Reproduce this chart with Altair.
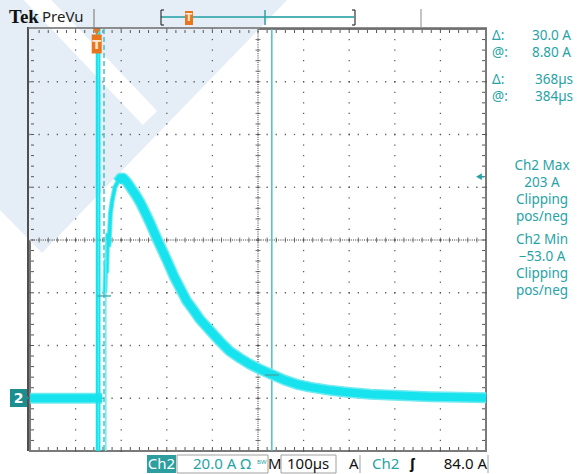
import altair as alt
import pandas as pd

# ---------------- data ----------------
# Ch2 current trace, time relative to trigger (µs) and current (A)
base_t = [-146, -100, -50, 0, 6, 12]
base_a = [0, 0, 0, 0, 0, 0]
rise_t = [18, 20, 22, 24, 27, 30, 34, 40, 46]
rise_a = [40, 52, 48, 62, 58, 70, 75, 80, 82]
decay_t = [46, 52, 58, 66, 76, 86, 96, 106, 117, 132,
           154, 170, 183, 197, 211, 226, 248, 270, 292, 314, 336, 358, 384, 413, 439,
           468, 512, 549, 600, 665, 731, 797, 854]
decay_a = [82, 83.5, 83.5, 82, 79.5, 77, 74, 70.5, 66.5, 60.5,
           52.3, 46, 41.7, 37, 33.7, 30, 25.8, 21.6, 17.8, 15.2, 12.9, 11, 9, 6.8, 5.3,
           4.2, 3, 2.3, 1.5, 1.0, 0.6, 0.4, 0.2]
# clipped excursions of the discharge spike (full-scale strokes)
spike_t = [0.3, 5.8]
spike_low_t = [20]
spike_low_a = [60]
# cursors
cursor_t = [16, 384]
cursor_a = [38.8, 8.8]
trigger_t = [0]
trigger_level_a = [84.0]
# readouts
readout_keys = ["Δ:", "@:", "Δ:", "@:"]
readout_vals = ["30.0 A", "8.80 A", "368µs", "384µs"]
minmax_lines = ["Ch2 Max", "203 A", "Clipping", "pos/neg",
                "Ch2 Min", "−53.0 A", "Clipping", "pos/neg"]

# ---------------- styling ----------------
FONT = "Noto Sans"
TEAL = "#27a3a6"
CYAN = "#16e3ed"
CYAN_EDGE = "#6feaf0"
ORANGE = "#e9761f"
GRIDC = "#4a4a4a"
WATER = "#e5eef7"
OX, OY = 30, 29          # plot origin on the page
W, H = 456, 422

xs = alt.Scale(domain=[0, 10], nice=False, zero=False)
ys = alt.Scale(domain=[-4, 4], nice=False, zero=False)
one = pd.DataFrame({"k": [0]})


def X(field="xd"):
    return alt.X(f"{field}:Q", scale=xs, axis=None)


def Y(field="yd"):
    return alt.Y(f"{field}:Q", scale=ys, axis=None)


def conv(ch):
    return ch.transform_calculate(xd="(datum.t + 146.3) / 100", yd="datum.a / 20 - 3")


def txt(s, x, y, size=14, color=TEAL, align="left", font=FONT, weight="normal"):
    return alt.Chart(one).mark_text(text=s, align=align, baseline="middle", fontSize=size,
                                    color=color, font=font, fontWeight=weight).encode(
        x=alt.value(x - OX), y=alt.value(y - OY))


def seg(x1, y1, x2, y2, color, width=1.0, dash=None, cap="butt"):
    kw = dict(color=color, strokeWidth=width, strokeCap=cap)
    if dash:
        kw["strokeDash"] = dash
    return alt.Chart(one).mark_rule(**kw).encode(
        x=alt.value(x1 - OX), y=alt.value(y1 - OY), x2=alt.value(x2 - OX), y2=alt.value(y2 - OY))


def box(x1, y1, x2, y2, fill=None, stroke=None):
    kw = {}
    if fill:
        kw["fill"] = fill
    else:
        kw["fillOpacity"] = 0
    if stroke:
        kw["stroke"] = stroke
        kw["strokeWidth"] = 1
    return alt.Chart(one).mark_rect(**kw).encode(
        x=alt.value(x1 - OX), y=alt.value(y1 - OY), x2=alt.value(x2 - OX), y2=alt.value(y2 - OY))


def poly(points, color):
    path = "M" + " L".join(f"{x - OX},{y - OY}" for x, y in points) + " Z"
    return alt.Chart(one).mark_point(shape=path, filled=True, size=4, color=color, opacity=1,
                                     strokeWidth=0).encode(x=alt.value(0), y=alt.value(0))


layers = []

# ---------- faint background watermark ----------
layers.append(poly([(-5, -5), (292, -5), (42, 253), (-5, 205)], WATER))
layers.append(seg(28, -10, 150, 118, "white", 20))

# ---------- graticule ----------
dots = []
for i in range(1, 10):
    if i == 5:
        continue
    for j in range(41):
        dots.append({"gx": i, "gy": -4 + j / 5})
for k in range(-3, 4):
    if k == 0:
        continue
    for j in range(51):
        dots.append({"gx": j / 5, "gy": k})
layers.append(alt.Chart(pd.DataFrame(dots)).mark_square(size=1.6, color=GRIDC, opacity=0.9)
              .encode(x=X("gx"), y=Y("gy")))

# centre lines (dense dots)
layers.append(alt.Chart(pd.DataFrame({"gy": [0]})).mark_rule(color="#333", strokeDash=[1, 1.2], strokeWidth=1)
              .encode(y=Y("gy")))
layers.append(alt.Chart(pd.DataFrame({"gx": [5]})).mark_rule(color="#333", strokeDash=[1, 1.2], strokeWidth=1)
              .encode(x=X("gx")))
# centre-line minor ticks
ct_h = pd.DataFrame({"gx": [j / 5 for j in range(1, 50)], "gy": 0})
ct_v = pd.DataFrame({"gy": [-4 + j / 5 for j in range(1, 40)], "gx": 5})
layers.append(alt.Chart(ct_h).mark_tick(orient="vertical", size=5, thickness=1, color="#333")
              .encode(x=X("gx"), y=Y("gy")))
layers.append(alt.Chart(ct_v).mark_tick(orient="horizontal", size=5, thickness=1, color="#333")
              .encode(x=X("gx"), y=Y("gy")))
# edge minor ticks
et_x = pd.DataFrame({"gx": [j / 5 for j in range(1, 50)]})
et_y = pd.DataFrame({"gy": [-4 + j / 5 for j in range(1, 40)]})
layers.append(alt.Chart(et_x).mark_rule(color="#555", strokeWidth=1)
              .encode(x=X("gx"), y=alt.value(1), y2=alt.value(4)))
layers.append(alt.Chart(et_x).mark_rule(color="#555", strokeWidth=1)
              .encode(x=X("gx"), y=alt.value(H - 4), y2=alt.value(H - 1)))
layers.append(alt.Chart(et_y).mark_rule(color="#555", strokeWidth=1)
              .encode(y=Y("gy"), x=alt.value(1), x2=alt.value(4)))
layers.append(alt.Chart(et_y).mark_rule(color="#555", strokeWidth=1)
              .encode(y=Y("gy"), x=alt.value(W - 4), x2=alt.value(W - 1)))

# ---------- cursors ----------
cur = pd.DataFrame({"t": cursor_t, "a": cursor_a, "style": ["dash", "solid"]})
layers.append(conv(alt.Chart(cur[cur["style"] == "dash"])).mark_rule(color="#45c2c8", strokeWidth=1.5, strokeDash=[5, 3])
              .encode(x=X()))
layers.append(conv(alt.Chart(cur[cur["style"] == "solid"])).mark_rule(color="#45c2c8", strokeWidth=1.5)
              .encode(x=X()))

# ---------- waveform ----------
base = pd.DataFrame({"t": base_t, "a": base_a, "s": "base"})
dec = pd.DataFrame({"t": decay_t, "a": decay_a, "s": "decay"})
rise = pd.DataFrame({"t": rise_t, "a": rise_a, "s": "rise"})
wave = pd.concat([base, dec])
layers.append(conv(alt.Chart(rise)).mark_line(color=CYAN_EDGE, strokeWidth=5, strokeJoin="round")
              .encode(x=X(), y=Y()))
layers.append(conv(alt.Chart(rise)).mark_line(color=CYAN, strokeWidth=3, strokeJoin="round")
              .encode(x=X(), y=Y()))
layers.append(conv(alt.Chart(wave)).mark_line(color=CYAN_EDGE, strokeWidth=11, strokeJoin="round", strokeCap="butt")
              .encode(x=X(), y=Y(), detail="s:N"))
layers.append(conv(alt.Chart(wave)).mark_line(color=CYAN, strokeWidth=8, strokeJoin="round", strokeCap="butt")
              .encode(x=X(), y=Y(), detail="s:N"))
layers.append(conv(alt.Chart(pd.DataFrame({"t": spike_t, "a": 0}))).mark_rule(color=CYAN, strokeWidth=2.2)
              .encode(x=X(), y=alt.value(0), y2=alt.value(H)))
layers.append(conv(alt.Chart(pd.DataFrame({"t": spike_low_t, "a": spike_low_a}))).mark_rule(color=CYAN_EDGE, strokeWidth=1.5)
              .encode(x=X(), y=Y(), y2=alt.value(H)))

# cursor / waveform intersection bars
layers.append(conv(alt.Chart(cur)).mark_tick(orient="horizontal", size=14, thickness=2, color="#3aa9ad")
              .encode(x=X(), y=Y()))

# ---------- trigger markers ----------
trig = pd.DataFrame({"t": trigger_t, "a": 0})
layers.append(conv(alt.Chart(trig)).mark_point(shape="triangle-down", filled=True, size=70, color=ORANGE, opacity=1)
              .encode(x=X(), y=alt.value(2.5)))
layers.append(conv(alt.Chart(trig)).mark_point(shape="M-0.5,-0.95L0.5,-0.95L0.5,0.95L-0.5,0.95Z", filled=True,
                                               size=400, color=ORANGE, opacity=1)
              .encode(x=X(), y=alt.value(15)))
layers.append(conv(alt.Chart(trig)).mark_text(text="T", color="#fde7cf", fontSize=13, font="DejaVu Sans",
                                              fontWeight="bold", baseline="middle")
              .encode(x=X(), y=alt.value(15.5)))
lvl = pd.DataFrame({"t": 0, "a": trigger_level_a})
layers.append(conv(alt.Chart(lvl)).mark_point(shape="triangle-left", filled=True, size=45, color=TEAL, opacity=1)
              .encode(x=alt.value(W - 7), y=Y()))
layers.append(conv(alt.Chart(lvl)).mark_rule(color=TEAL, strokeWidth=1.5)
              .encode(x=alt.value(W - 6), x2=alt.value(W - 2), y=Y()))

# ---------- frame ----------
layers.append(seg(28, 27, 28, 451, "#505050", 2))
layers.append(seg(28, 28, 487, 28, "#6b6b6b", 1.5))

# ---------- Ch2 ground marker ----------
layers.append(box(10, 389, 27, 407, fill="#1c8e90"))
layers.append(alt.Chart(one).mark_point(shape="triangle-right", filled=True, size=60, color="#1c8e90", opacity=1)
              .encode(x=alt.value(27 - OX), y=alt.value(398 - OY)))
layers.append(txt("2", 18.5, 398.5, size=14, color="white", align="center", font="DejaVu Sans", weight="bold"))

# ---------- header ----------
layers.append(txt("Tek", 9, 17, size=19, color="#111", font="Liberation Serif", weight="bold"))
layers.append(txt("PreVu", 42, 17, size=15, color="#222"))
layers.append(seg(94, 9, 94, 27, "#9a9a9a", 1.5))
layers.append(seg(421, 9, 421, 27, "#b0b0b0", 1.5))
layers.append(seg(161, 17, 354, 17, "#4fb3b8", 2))
layers.append(seg(161, 10, 161, 25, "#333", 1.2))
layers.append(seg(161, 10, 164, 10, "#333", 1.2))
layers.append(seg(161, 25, 164, 25, "#333", 1.2))
layers.append(seg(355, 10, 355, 25, "#333", 1.2))
layers.append(seg(352, 10, 355, 10, "#333", 1.2))
layers.append(seg(352, 25, 355, 25, "#333", 1.2))
layers.append(seg(265, 10, 265, 25, "#2f9fa3", 1.5))
layers.append(box(185, 11, 193, 25, fill=ORANGE))
layers.append(txt("T", 189, 18, size=10, color="#fde7cf", align="center", font="DejaVu Sans", weight="bold"))

# ---------- right readouts ----------
ry = [36, 53, 80, 97]
rvx = [532, 532, 535, 535]
for k, v, y, vx in zip(readout_keys, readout_vals, ry, rvx):
    layers.append(txt(k, 492, y, size=13.5))
    layers.append(txt(v, vx, y, size=13.5))
my = [166, 183, 200, 217, 240, 257, 274, 291]
for s, y in zip(minmax_lines, my):
    layers.append(txt(s, 542, y, size=13.5, align="center"))

# ---------- bottom status bar ----------
layers.append(box(147, 455, 176, 473, fill="#2c9ea0"))
layers.append(txt("Ch2", 161.5, 464, size=15, color="white", align="center"))
layers.append(box(177, 455, 268, 473, stroke="#a0a0a0"))
layers.append(txt("20.0 A Ω", 193, 464, size=15, color=TEAL))
layers.append(txt("BW", 257, 462, size=6, color=TEAL))
layers.append(txt("M", 268, 464, size=15, color="#111"))
layers.append(box(281, 455, 336, 473, stroke="#a0a0a0"))
layers.append(txt("100µs", 287, 464, size=15, color="#111"))
layers.append(txt("A", 349, 464, size=15, color="#111"))
layers.append(seg(360, 455, 360, 473, "#a0a0a0", 1))
layers.append(txt("Ch2", 372, 464, size=15, color=TEAL))
layers.append(txt("ʃ", 410, 464, size=15, color="#111", weight="bold"))
layers.append(txt("84.0 A", 487, 464, size=15, color="#111", align="right"))
layers.append(seg(488, 455, 488, 473, "#a0a0a0", 1))

chart = alt.layer(*layers).properties(
    width=W, height=H,
    padding={"left": OX, "top": OY, "right": 581 - OX - W, "bottom": 474 - OY - H},
    autosize=alt.AutoSizeParams(type="none"),
    background="white",
).configure_view(stroke="#7a7a7a", strokeWidth=2)

chart.save("out.html", embed_options={"renderer": "svg", "actions": False})
